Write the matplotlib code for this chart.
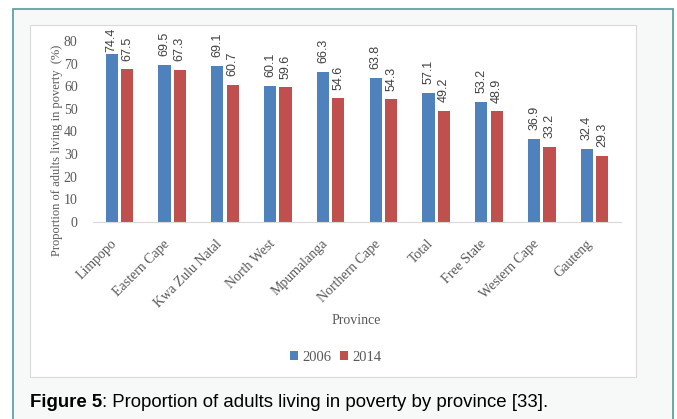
import matplotlib.pyplot as plt
import numpy as np
from matplotlib.patches import Rectangle
from matplotlib.transforms import ScaledTranslation

provinces = ["Limpopo", "Eastern Cape", "Kwa Zulu Natal", "North West", "Mpumalanga",
             "Northern Cape", "Total", "Free State", "Western Cape", "Gauteng"]
pov_2006 = [74.4, 69.5, 69.1, 60.1, 66.3, 63.8, 57.1, 53.2, 36.9, 32.4]
pov_2014 = [67.5, 67.3, 60.7, 59.6, 54.6, 54.3, 49.2, 48.9, 33.2, 29.3]
years = ["2006", "2014"]

W, H = 677, 419
fig = plt.figure(figsize=(W / 100, H / 100), dpi=100)


def px(x, y):
    # pixel coords (top-left origin) -> figure fraction
    return x / W, 1 - y / H


# outer teal frame and inner white chart box
fig.patches.append(Rectangle(px(13, 430), 660 / W, 421 / H, transform=fig.transFigure,
                             facecolor="#f7f9f9", edgecolor="#4f9c99", lw=1.2, zorder=-2))
fig.patches.append(Rectangle(px(30, 377), 606 / W, 352 / H, transform=fig.transFigure,
                             facecolor="white", edgecolor="#d9d9d9", lw=0.8, zorder=-1))

ax = fig.add_axes([93 / W, 1 - 222 / H, 528 / W, 181 / H])
ax.patch.set_alpha(0)

serif = "Liberation Serif"
gray = "#595959"

x = np.arange(len(provinces))
w = 0.23
b1 = ax.bar(x - w / 2 - 0.03, pov_2006, w, color="#4f81bd", label=years[0])
b2 = ax.bar(x + w / 2 + 0.03, pov_2014, w, color="#c0504d", label=years[1])

for bars, vals in [(b1, pov_2006), (b2, pov_2014)]:
    for r, v in zip(bars, vals):
        ax.text(r.get_x() + r.get_width() / 2, min(v + 3.8, 75.2), f"{v:.1f}",
                rotation=90, ha="center", va="bottom", fontsize=9,
                family="Liberation Sans", color="#404040", clip_on=False)

ax.set_xlim(-0.5, len(provinces) - 0.5)
ax.set_ylim(0, 80)
ax.set_yticks(range(0, 81, 10))
ax.set_xticks(x)
ax.set_xticklabels(provinces, rotation=45, ha="right", fontsize=10,
                   family=serif, color=gray)
shift = ScaledTranslation(3 / 100, 0, fig.dpi_scale_trans)
for t in ax.get_xticklabels():
    t.set_transform(t.get_transform() + shift)
for t in ax.get_yticklabels():
    t.set_family(serif)
    t.set_fontsize(10)
    t.set_color(gray)
ax.tick_params(axis="both", length=0)
ax.tick_params(axis="y", pad=11)
ax.tick_params(axis="x", pad=11)
for s in ["top", "right", "left"]:
    ax.spines[s].set_visible(False)
ax.spines["bottom"].set_color("#d9d9d9")

fig.text(*px(356, 320), "Province", ha="center", va="center", fontsize=10,
         family=serif, color=gray)
fig.text(*px(57, 150), "Proportion of adults living in poverty  (%)", rotation=90,
         ha="center", va="center", fontsize=9, family=serif, color=gray)

leg = fig.legend(loc="center", bbox_to_anchor=px(336, 357), ncol=2, frameon=False,
                 prop={"family": serif, "size": 10.5}, handlelength=0.55, handleheight=0.55,
                 handletextpad=0.3, columnspacing=0.6)
for t in leg.get_texts():
    t.set_color(gray)

# caption
c1 = fig.text(*px(30, 407), "Figure 5", fontsize=13.4, fontweight="bold",
              family="Liberation Sans", va="baseline")
fig.canvas.draw()
bb = c1.get_window_extent()
fig.text(bb.x1 / W, 1 - 407 / H, ": Proportion of adults living in poverty by province [33].",
         fontsize=13.4, family="Liberation Sans", va="baseline")

fig.savefig("out.png", dpi=100)
